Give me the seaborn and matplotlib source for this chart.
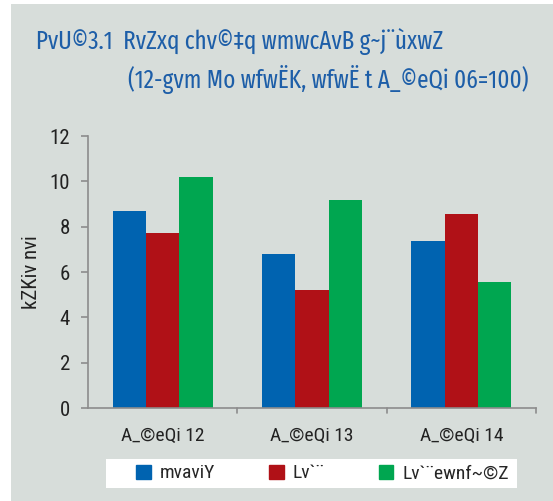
import matplotlib.pyplot as plt
import matplotlib.patches as mpatches
import pandas as pd
import seaborn as sns

years = ['A_©eQi 12', 'A_©eQi 13', 'A_©eQi 14']
series = ['mvaviY', 'Lv`¨', 'Lv`¨ewnf~©Z']
general = [8.69, 6.78, 7.35]
food = [7.72, 5.22, 8.57]
nonfood = [10.21, 9.17, 5.55]
colors = ['#0063b0', '#b01117', '#00a650']

df = pd.DataFrame({
    'year': years * 3,
    'kind': [series[0]] * 3 + [series[1]] * 3 + [series[2]] * 3,
    'value': general + food + nonfood,
})

sns.set_style('white')
plt.rcParams['font.family'] = ['Roboto Condensed', 'DejaVu Sans']
title_font = ['Fira Sans Extra Condensed', 'Roboto Condensed', 'DejaVu Sans']

bg = '#d7ddda'
title_col = '#1d5ea8'
axis_col = '#8c8c8c'
text_col = '#222222'

fig = plt.figure(figsize=(5.53, 5.01), dpi=100)
fig.patch.set_facecolor('white')
fig.patches.append(mpatches.Rectangle((11 / 553, 0), 1, (501 - 4) / 501,
                                      transform=fig.transFigure,
                                      facecolor=bg, edgecolor='none', zorder=-10))

ax = fig.add_axes([88 / 553, (501 - 408) / 501, (536 - 88) / 553, (408 - 136) / 501])
ax.set_facecolor('none')

sns.barplot(data=df, x='year', y='value', hue='kind', palette=colors,
            width=0.67, gap=0, saturation=1, linewidth=0, ax=ax, legend=False)

ax.set_ylim(0, 12)
ax.set_yticks(range(0, 13, 2))
ax.set_xlim(-0.5, 2.5)
ax.set_xlabel('')
ax.set_ylabel('kZKiv nvi', fontsize=15, color=text_col, labelpad=6)
ax.tick_params(axis='y', left=True, labelsize=15, colors=text_col, length=5,
               width=1.2, color=axis_col, pad=8, direction='out')
ax.tick_params(axis='x', labelsize=14, colors=text_col, length=0, pad=14)
for x in [0.5, 1.5, 2.5]:
    ax.plot([x, x], [0, -0.22], color=axis_col, lw=1.2, clip_on=False)
for s in ['top', 'right']:
    ax.spines[s].set_visible(False)
for s in ['left', 'bottom']:
    ax.spines[s].set_color(axis_col)
    ax.spines[s].set_linewidth(1.2)

fig.text(36 / 553, 1 - 42 / 501, 'PvU©3.1  RvZxq chv©‡q wmwcAvB g~j¨ùxwZ',
         fontsize=18, color=title_col, va='center', ha='left', family=title_font)
fig.text(128 / 553, 1 - 80 / 501, '(12-gvm Mo wfwËK, wfwË t A_©eQi 06=100)',
         fontsize=18, color=title_col, va='center', ha='left', family=title_font)

fig.patches.append(mpatches.Rectangle((106 / 553, 13 / 501), (517 - 106) / 553, 29 / 501,
                                      transform=fig.transFigure,
                                      facecolor='white', edgecolor='none', zorder=-5))
handles = [mpatches.Patch(color=c, label=l) for c, l in zip(colors, series)]
leg = fig.legend(handles=handles, ncol=3, loc='center left',
                 bbox_to_anchor=(136 / 553, 27.5 / 501),
                 frameon=False, fontsize=14,
                 handlelength=0.75, handleheight=0.75, handletextpad=0.45,
                 columnspacing=2.8, borderpad=0, borderaxespad=0)

fig.savefig('out.png', dpi=100)
